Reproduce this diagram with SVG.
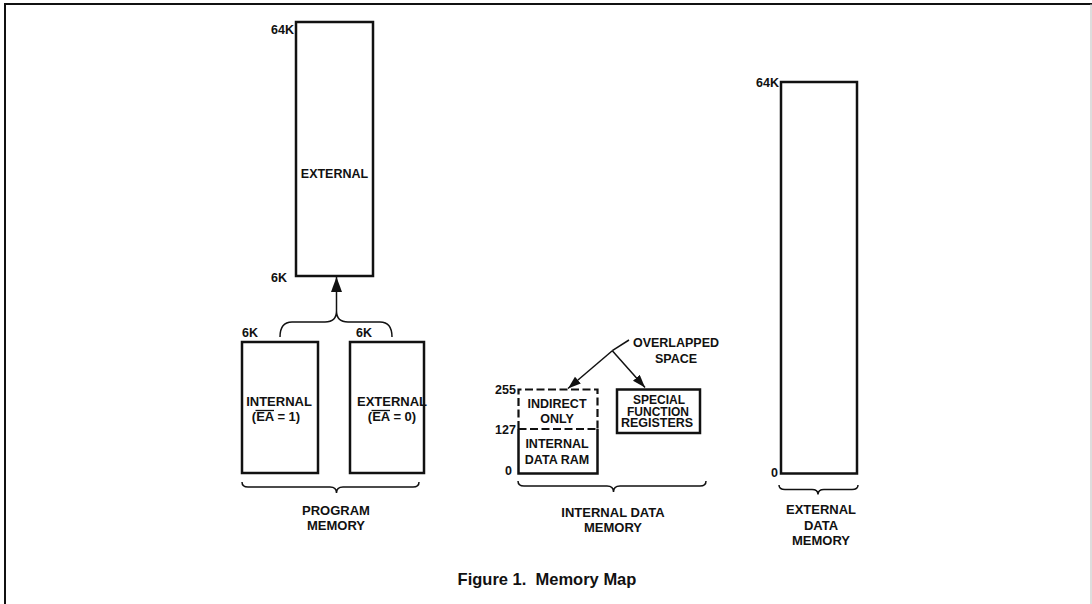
<svg xmlns="http://www.w3.org/2000/svg" width="1092" height="604" viewBox="0 0 1092 604">
  <style>
    .t { font-family: "Liberation Sans", Arial, Helvetica, sans-serif; font-weight: bold; font-size: 12.5px; fill: #111; }
    .mid { text-anchor: middle; }
    .end { text-anchor: end; }
    .box { fill: none; stroke: #111; stroke-width: 2.5; }
    .dash { fill: none; stroke: #111; stroke-width: 2.2; stroke-dasharray: 8 3.5; }
    .brace { fill: none; stroke: #111; stroke-width: 1.5; }
    .conn { fill: none; stroke: #111; stroke-width: 1.5; }
    .bar { stroke: #111; stroke-width: 1.3; }
  </style>
  <defs>
    <marker id="bigHead" markerUnits="userSpaceOnUse" markerWidth="16" markerHeight="12" refX="15" refY="5.5" orient="auto">
      <path d="M0,0 L15,5.5 L0,11 z" fill="#111"/>
    </marker>
    <marker id="head" markerUnits="userSpaceOnUse" markerWidth="14" markerHeight="10" refX="13" refY="4.5" orient="auto">
      <path d="M0,0 L13,4.5 L0,9 z" fill="#111"/>
    </marker>
  </defs>

  <rect width="1092" height="604" fill="#fff"/>
  <g id="frame">
    <line x1="5" y1="4" x2="1092" y2="4" stroke="#111" stroke-width="2"/>
    <line x1="5" y1="3" x2="5" y2="604" stroke="#111" stroke-width="2"/>
    <line x1="1091" y1="4" x2="1091" y2="604" stroke="#bbb" stroke-width="1"/>
  </g>

  <g id="prog-external-high">
    <rect class="box" x="296" y="22" width="77" height="254"/>
    <text class="t" x="271" y="34">64K</text>
    <text class="t" x="271" y="282">6K</text>
    <text class="t mid" x="334.5" y="178">EXTERNAL</text>
  </g>

  <g id="prog-internal">
    <rect class="box" x="242" y="342" width="76" height="131"/>
    <text class="t" x="242" y="337">6K</text>
    <text class="t mid" x="279" y="406" style="font-size:13px">INTERNAL</text>
    <text class="t mid" x="276" y="420.5" style="font-size:13px">(EA = 1)</text>
    <line class="bar" x1="255.5" y1="410.5" x2="274" y2="410.5"/>
  </g>

  <g id="prog-external-low">
    <rect class="box" x="350" y="342" width="74" height="131"/>
    <text class="t" x="356" y="337">6K</text>
    <text class="t mid" x="392" y="406" style="font-size:13px">EXTERNAL</text>
    <text class="t mid" x="392" y="420.5" style="font-size:13px">(EA = 0)</text>
    <line class="bar" x1="371.5" y1="410.5" x2="390" y2="410.5"/>
  </g>

  <g id="prog-label">
    <text class="t mid" x="336" y="515" style="font-size:13px">PROGRAM</text>
    <text class="t mid" x="336" y="530" style="font-size:13px">MEMORY</text>
  </g>

  <g id="internal-data">
    <path class="dash" d="M518.5,429 L518.5,389.5 L597.5,389.5 L597.5,429"/>
    <line class="dash" x1="518.5" y1="429" x2="597.5" y2="429"/>
    <path class="box" d="M518.5,429 L518.5,473.5 L597.5,473.5 L597.5,429"/>
    <text class="t" x="495" y="393.5">255</text>
    <text class="t" x="495" y="434">127</text>
    <text class="t" x="505" y="474.5">0</text>
    <text class="t mid" x="557" y="408">INDIRECT</text>
    <text class="t mid" x="557" y="423">ONLY</text>
    <text class="t mid" x="557" y="447.5">INTERNAL</text>
    <text class="t mid" x="557" y="463.5">DATA RAM</text>
  </g>

  <g id="sfr">
    <rect class="box" x="617" y="389.5" width="83" height="43.5"/>
    <text class="t mid" x="659" y="404" style="font-size:12px">SPECIAL</text>
    <text class="t mid" x="658" y="415.7" style="font-size:12px">FUNCTION</text>
    <text class="t mid" x="657" y="427.4" style="font-size:12.5px">REGISTERS</text>
  </g>

  <g id="overlapped-label">
    <text class="t mid" x="676" y="346.5">OVERLAPPED</text>
    <text class="t mid" x="676" y="362.5">SPACE</text>
  </g>

  <g id="internal-data-label">
    <text class="t mid" x="613" y="517" style="font-size:13px">INTERNAL DATA</text>
    <text class="t mid" x="613" y="531.5" style="font-size:13px">MEMORY</text>
  </g>

  <g id="external-data">
    <rect class="box" x="781" y="82" width="76" height="391.5"/>
    <text class="t end" x="779" y="87">64K</text>
    <text class="t end" x="778" y="477">0</text>
  </g>

  <g id="external-data-label">
    <text class="t mid" x="821" y="514" style="font-size:13px">EXTERNAL</text>
    <text class="t mid" x="821" y="529.5" style="font-size:13px">DATA</text>
    <text class="t mid" x="821" y="545" style="font-size:13px">MEMORY</text>
  </g>

  <g id="connectors">
    <path class="brace" d="M280,337 Q280,322 292,322 L325,322 Q336.5,322 336.5,311 Q336.5,322 348,322 L380,322 Q392,322 392,337"/>
    <line class="conn" x1="336.5" y1="311" x2="336.5" y2="277" marker-end="url(#bigHead)"/>
    <polyline class="conn" points="629,340 612.3,350.7"/>
    <line class="conn" x1="612.3" y1="350.7" x2="568" y2="388.5" marker-end="url(#head)"/>
    <line class="conn" x1="612.3" y1="350.7" x2="645" y2="387.5" marker-end="url(#head)"/>
    <path class="brace" d="M242,482 Q242,487 248,487 L330,487 Q336.5,487 336.5,493 Q336.5,487 343,487 L413,487 Q419,487 419,482"/>
    <path class="brace" d="M518,481 Q518,486 524,486 L607,486 Q613.5,486 613.5,492 Q613.5,486 620,486 L700,486 Q706,486 706,481"/>
    <path class="brace" d="M779,485 Q779,489.5 785,489.5 L812,489.5 Q818,489.5 818,494.5 Q818,489.5 824,489.5 L852,489.5 Q858,489.5 858,485"/>
  </g>

  <g id="caption">
    <text class="t mid" x="547" y="585" style="font-size:16.5px">Figure 1.&#160; Memory Map</text>
  </g>
</svg>
